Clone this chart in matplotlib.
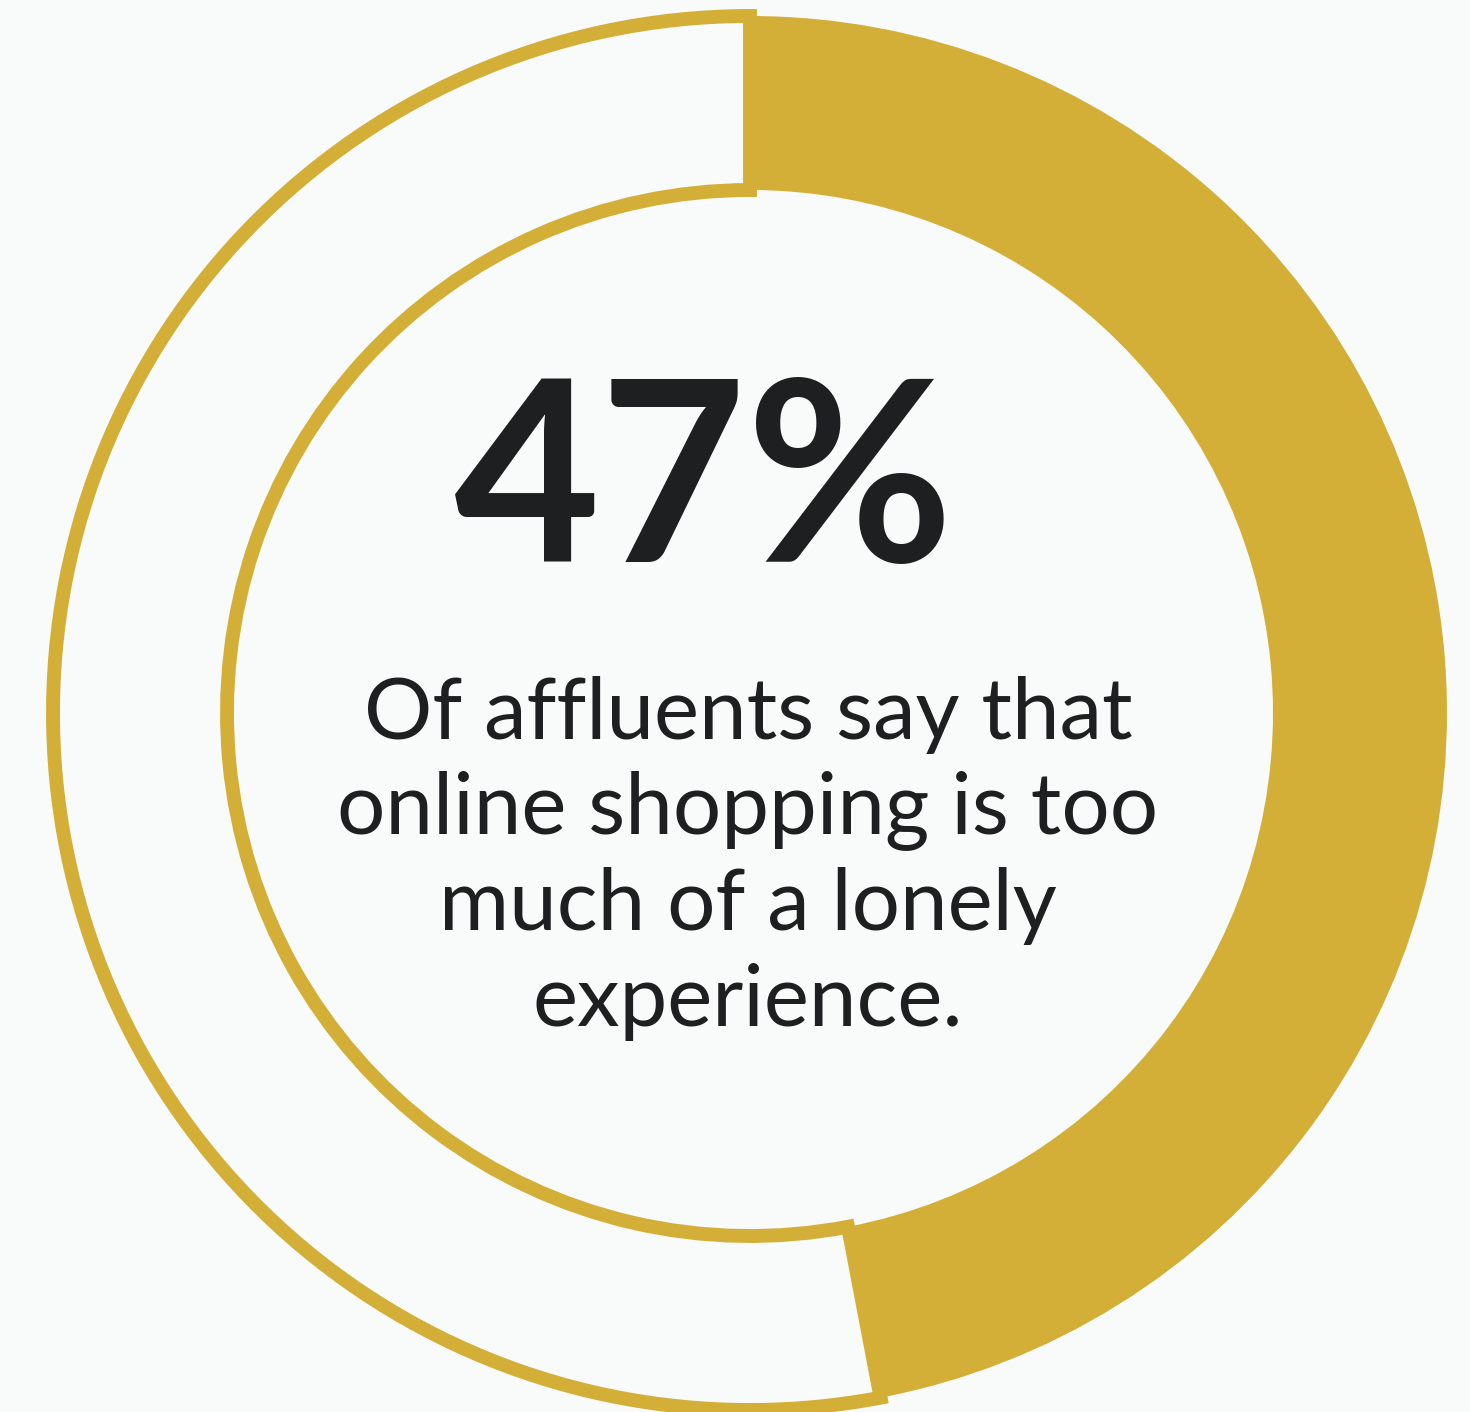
import matplotlib
matplotlib.use("Agg")
import matplotlib.pyplot as plt

# data
share = 47
labels = ["Agree", "Other"]
values = [share, 100 - share]
headline = f"{share}%"
caption_lines = [
    "Of affluents say that",
    "online shopping is too",
    "much of a lonely",
    "experience.",
]

W, H = 1470, 1412
bg = "#f9fbfa"
gold = "#d3af38"
ink = "#1e1f21"

fig = plt.figure(figsize=(W / 100, H / 100), dpi=100, facecolor=bg)
ax = fig.add_axes([0, 0, 1, 1])
ax.set_facecolor(bg)

cx, cy = 750, H - 713
wedges, _ = ax.pie(values, startangle=90, counterclock=False,
                   radius=697, center=(cx, cy), frame=True,
                   colors=[gold, bg],
                   wedgeprops=dict(width=174, linewidth=0))
wedges[1].set_edgecolor(gold)
wedges[1].set_linewidth(10)
wedges[1].set_zorder(3)
ax.set_xlim(0, W)
ax.set_ylim(0, H)
ax.axis("off")

ax.text(704, H - 562, headline, ha="center", va="baseline",
        fontsize=182, fontweight="bold", family="Lato", color=ink)

baselines = [739, 833, 930, 1026]
for line, b in zip(caption_lines, baselines):
    ax.text(748, H - b, line, ha="center", va="baseline",
            fontsize=61.5, fontweight="normal", family="Lato", color=ink)

fig.savefig("out.png", dpi=100, facecolor=bg)
